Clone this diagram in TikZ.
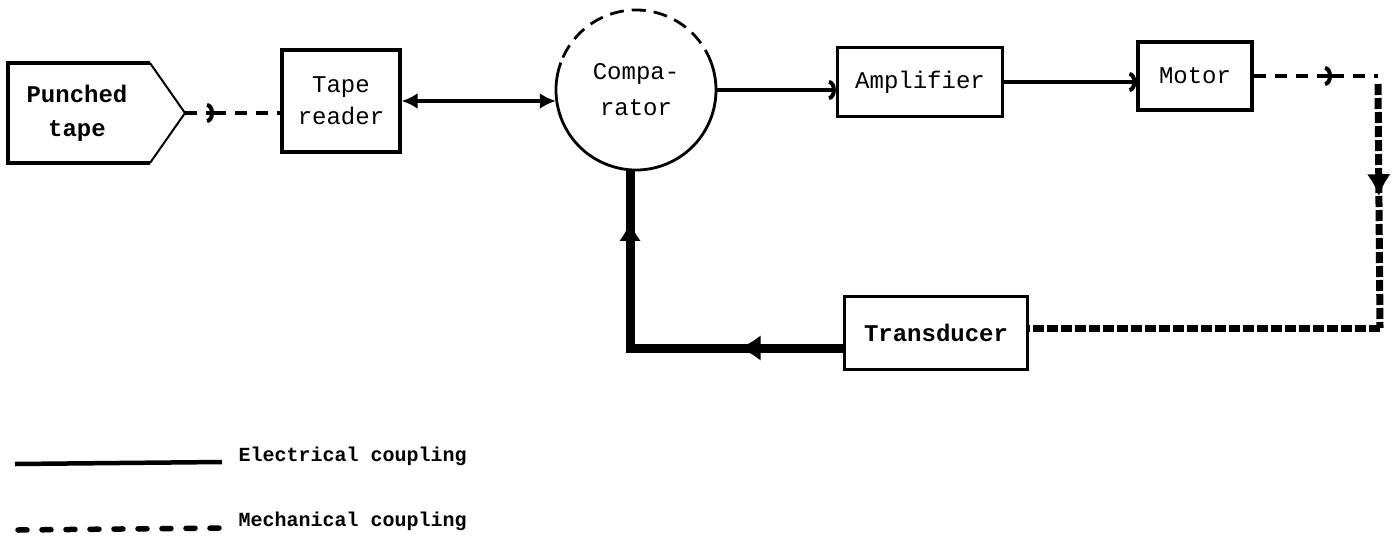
\documentclass[tikz,border=0pt]{standalone}
\usepackage{fontspec}
\usetikzlibrary{arrows.meta,decorations.markings}
\newfontfamily\tw{Liberation Mono}
\begin{document}
\begin{tikzpicture}[x=1pt,y=-1pt,
  lbl/.style={font=\tw\fontsize{24}{32}\selectfont,align=center},
  box/.style={lbl,draw,line width=3.2pt,rectangle,inner sep=0pt},
  elec/.style={line width=3.5pt},
  mech/.style={line width=3.5pt,dash pattern=on 12pt off 9pt},
  heavymech/.style={line width=7pt,dash pattern=on 11pt off 3pt},
  barb/.style={-{Arc Barb[length=7pt,width=20pt,line width=4pt]}},
  legtext/.style={anchor=west,font=\tw\bfseries\fontsize{20}{22}\selectfont},
]
\useasboundingbox (0,0) rectangle (1397,541);

% Punched tape
\draw[line width=3.2pt,line join=miter] (150,63) -- (8,63) -- (8,163) -- (150,163);
\draw[line width=2pt] (150,63) -- (185,113) -- (150,163);
\coordinate (tapetip) at (185,113);
\node[lbl,font=\tw\bfseries\fontsize{24}{34}\selectfont] (tape) at (77,113) {Punched\\tape};

% Boxes
\node[box,minimum width=118pt,minimum height=102pt] (reader) at (341,101) {Tape\\reader};
\node[lbl,circle,minimum size=160pt,inner sep=0pt,font=\tw\fontsize{24}{36}\selectfont] (comp) at (636,90) {Compa-\\rator};
\draw[line width=2.8pt,dash pattern=on 14pt off 8pt] ([shift={(20:80pt)}]comp.center) arc[start angle=20,end angle=160,radius=80pt];
\draw[line width=2.8pt] ([shift={(160:80pt)}]comp.center) arc[start angle=160,end angle=380,radius=80pt];
\node[box,minimum width=165pt,minimum height=69pt] (amp) at (920,82) {Amplifier};
\node[box,minimum width=114pt,minimum height=68pt] (motor) at (1195,76) {Motor};
\node[box,minimum width=183pt,minimum height=73pt,font=\tw\bfseries\fontsize{24}{32}\selectfont] (trans) at (936,333) {Transducer};

% Connectors
\coordinate (m1) at (214,113);
\draw[mech,barb] (tapetip) -- (m1);
\draw[mech] (m1) -- (reader.west |- m1);
\draw[elec,{Latex[length=16pt,width=16pt]}-{Latex[length=16pt,width=16pt]}] (reader.east) -- (reader.east -| comp.west);
\draw[elec,barb] (comp.east) -- (comp.east -| amp.west);
\draw[elec,barb] (amp.east) -- (amp.east -| motor.west);
\coordinate (m2) at (1332,76);
\coordinate (c1) at (1378,76);
\coordinate (c2) at (1380,328);
\draw[mech,barb] (motor.east) -- (m2);
\draw[mech] (m2) -- (c1);
\draw[heavymech,postaction=decorate,decoration={markings,mark=at position 0.46 with {\arrow[solid]{Latex[length=22pt,width=24pt]}}}] ([yshift=-8pt]c1) -- (c2);
\draw[heavymech] (c2) -- (c2 -| trans.east);
\coordinate (c3) at (630,348);
\draw[line width=9pt,line join=miter,postaction=decorate,decoration={markings,
   mark=at position 0.267 with {\arrow{Latex[length=22pt,width=26pt]}},
   mark=at position 0.87 with {\arrow{Latex[length=20pt,width=22pt]}}}]
   (trans.west |- c3) -- (c3) -- (c3 |- comp.south);

% Legend
\coordinate (l1a) at (15,464);
\coordinate (l1b) at (222,462);
\draw[line width=4.5pt] (l1a) -- (l1b);
\node[legtext] (lt1) at (235,456) {Electrical coupling};
\coordinate (l2a) at (18,530);
\coordinate (l2b) at (222,528);
\draw[line width=5.5pt,dash pattern=on 9pt off 15pt,line cap=round] (l2a) -- (l2b);
\node[legtext] (lt2) at (235,521) {Mechanical coupling};
\end{tikzpicture}
\end{document}
